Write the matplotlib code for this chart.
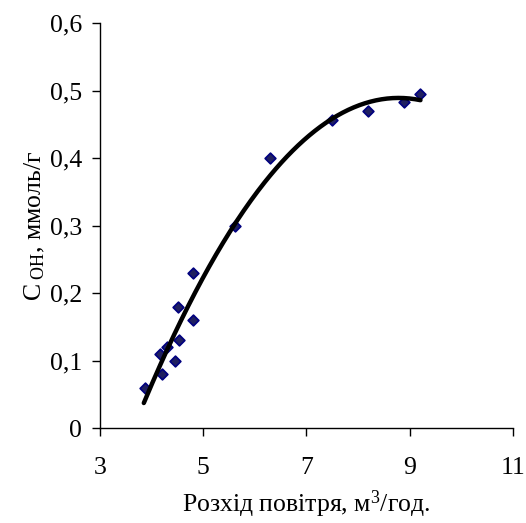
import numpy as np
import matplotlib
matplotlib.use("Agg")
import matplotlib.pyplot as plt

plt.rcParams['font.family'] = ['Liberation Serif', 'DejaVu Serif']
plt.rcParams['mathtext.fontset'] = 'custom'
plt.rcParams['mathtext.rm'] = 'Liberation Serif'
plt.rcParams['mathtext.it'] = 'Liberation Serif:italic'

flow = [3.87, 4.17, 4.20, 4.29, 4.45, 4.51, 4.54, 4.81, 4.81, 5.62, 6.29, 7.50, 8.20, 8.90, 9.21]
conc = [0.06, 0.11, 0.08, 0.12, 0.10, 0.18, 0.13, 0.16, 0.23, 0.30, 0.40, 0.457, 0.47, 0.483, 0.495]
x_ticks = [3, 5, 7, 9, 11]
y_ticks = [0, 0.1, 0.2, 0.3, 0.4, 0.5, 0.6]
y_labels = ['0', '0,1', '0,2', '0,3', '0,4', '0,5', '0,6']

fig = plt.figure(figsize=(5.26, 5.23), dpi=100)
ax = fig.add_axes([0.190, 0.1816, 0.785, 0.7744])

coef = np.polyfit(flow, conc, 2)
xs = np.linspace(min(flow) - 0.02, max(flow), 200)
ax.plot(xs, np.polyval(coef, xs), color='black', lw=3.2, solid_capstyle='round', zorder=3)
ax.scatter(flow, conc, marker='D', s=30, facecolor='#202060', edgecolor='#000080', linewidths=1.2, zorder=2)

ax.set_xlim(3, 11)
ax.set_ylim(0, 0.6)
ax.set_xticks(x_ticks)
ax.set_xticklabels([str(t) for t in x_ticks])
ax.set_yticks(y_ticks)
ax.set_yticklabels(y_labels)
for s in ['top', 'right']:
    ax.spines[s].set_visible(False)
for s in ['left', 'bottom']:
    ax.spines[s].set_linewidth(1.0)
ax.tick_params(axis='both', direction='out', length=6, width=1, labelsize=18.5)
ax.tick_params(axis='x', pad=15)
ax.tick_params(axis='y', pad=7)
ax.set_xlabel(r'Розхід повітря, м$^{3}$/год.', fontsize=18.5, labelpad=7)
ax.set_ylabel(r'C$_{\mathrm{\ OH}}$, ммоль/г', fontsize=18.5, labelpad=2)

fig.savefig('out.png', dpi=100)
